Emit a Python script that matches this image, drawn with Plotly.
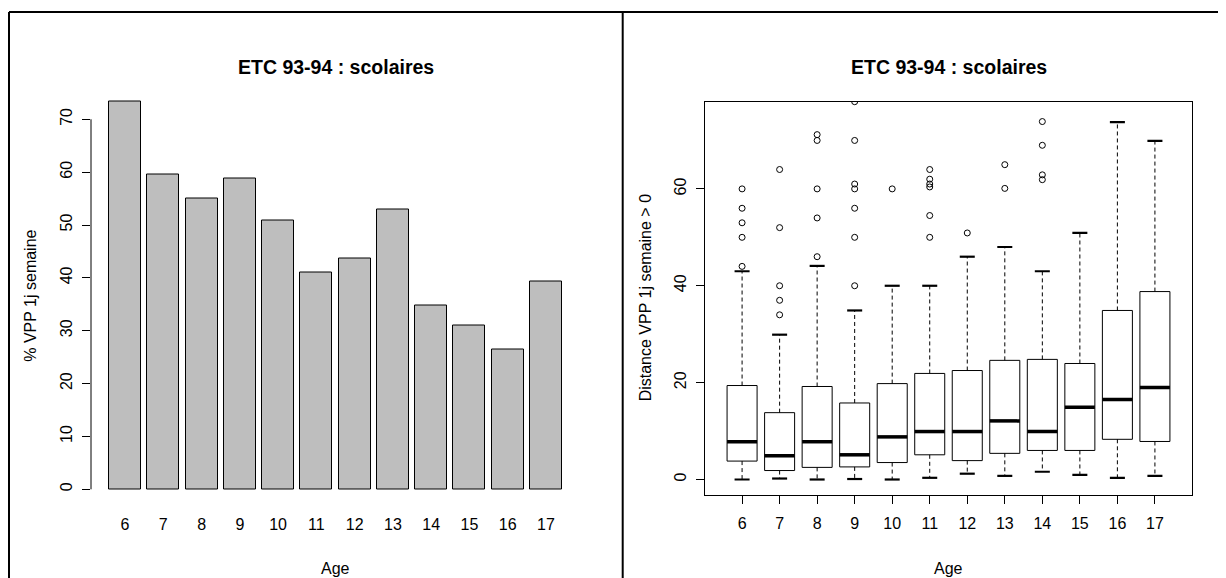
import plotly.graph_objects as go

# ---------------- data ----------------
ages = [6, 7, 8, 9, 10, 11, 12, 13, 14, 15, 16, 17]
pct_vpp = [73.3, 59.6, 55.0, 58.8, 50.8, 41.1, 43.6, 53.0, 34.7, 30.9, 26.4, 39.3]

box_q1 = [3.8, 1.85, 2.5, 2.6, 3.5, 5.1, 3.9, 5.4, 6.0, 6.0, 8.3, 7.85]
box_med = [7.8, 4.9, 7.8, 5.1, 8.8, 9.9, 9.9, 12.1, 9.9, 14.9, 16.5, 19.0]
box_q3 = [19.4, 13.8, 19.2, 15.8, 19.8, 21.9, 22.5, 24.6, 24.8, 23.95, 34.9, 38.8]
box_lo = [0.0, 0.2, 0.0, 0.1, 0.0, 0.35, 1.2, 0.75, 1.6, 0.95, 0.35, 0.75]
box_hi = [43.0, 29.9, 44.1, 34.9, 40.0, 40.0, 46.0, 48.0, 43.0, 50.9, 73.8, 69.9]
box_out = [
    [44, 50, 53, 56, 60],
    [34, 37, 40, 52, 64],
    [46, 54, 60, 70, 71.2],
    [40, 50, 56, 60, 61, 70, 78],
    [60],
    [50, 54.5, 60.4, 61, 62, 64],
    [50.9],
    [60.1, 65],
    [61.9, 62.9, 69, 73.9],
    [],
    [],
    [],
]

title_txt = "ETC 93-94 : scolaires"
xlab = "Age"
ylab_left = "% VPP 1j semaine"
ylab_right = "Distance VPP 1j semaine > 0"
left_yticks = [0, 10, 20, 30, 40, 50, 60, 70]
right_yticks = [0, 20, 40, 60]

# ---------------- layout helpers ----------------
# the page body has an 8px margin, so the figure starts at (8, 8) on screen
OFF = 8
W, H = 1226 - OFF, 578 - OFF
def px(p):
    return (p - OFF) / W
def py(p):
    return 1 - (p - OFF) / H

FONT = "Liberation Sans, Arial, sans-serif"
L_X0, L_X1, L_Y0, L_Y1 = 91, 580, 86.5, 505
R_X0, R_X1, R_Y0, R_Y1 = 705.3, 1191.7, 101.7, 495

fig = go.Figure()

# left: bar chart
fig.add_trace(go.Bar(
    x=ages, y=pct_vpp, width=1 / 1.2,
    marker=dict(color="#BEBEBE", line=dict(color="black", width=1)),
    xaxis="x", yaxis="y", showlegend=False, hoverinfo="x+y",
))

# right: boxplots built from stats
bw = 0.4
sw = 0.2
bx, by, mx, my, wx, wy, sx, sy, ox, oy = [], [], [], [], [], [], [], [], [], []
for a, q1, md, q3, lo, hi, outs in zip(ages, box_q1, box_med, box_q3, box_lo, box_hi, box_out):
    bx += [a - bw, a + bw, a + bw, a - bw, a - bw, None]
    by += [q1, q1, q3, q3, q1, None]
    mx += [a - bw, a + bw, None]
    my += [md, md, None]
    wx += [a, a, None, a, a, None]
    wy += [q3, hi, None, q1, lo, None]
    sx += [a - sw, a + sw, None, a - sw, a + sw, None]
    sy += [hi, hi, None, lo, lo, None]
    for o in outs:
        ox.append(a)
        oy.append(o)

fig.add_trace(go.Scatter(x=wx, y=wy, mode="lines", line=dict(color="black", width=1, dash="4px,3px"),
                         xaxis="x2", yaxis="y2", showlegend=False, hoverinfo="skip"))
fig.add_trace(go.Scatter(x=bx, y=by, mode="lines", line=dict(color="black", width=1),
                         xaxis="x2", yaxis="y2", showlegend=False, hoverinfo="skip"))
fig.add_trace(go.Scatter(x=sx, y=sy, mode="lines", line=dict(color="black", width=2.2),
                         xaxis="x2", yaxis="y2", showlegend=False, hoverinfo="skip"))
fig.add_trace(go.Scatter(x=mx, y=my, mode="lines", line=dict(color="black", width=3.5),
                         xaxis="x2", yaxis="y2", showlegend=False, hoverinfo="skip"))
fig.add_trace(go.Scatter(x=ox, y=oy, mode="markers",
                         marker=dict(symbol="circle-open", size=6, color="black", line=dict(width=1)),
                         xaxis="x2", yaxis="y2", showlegend=False))

axis_font = dict(family=FONT, size=16, color="black")

fig.update_layout(
    width=W, height=H,
    margin=dict(l=0, r=0, t=0, b=0),
    paper_bgcolor="white", plot_bgcolor="white",
    font=dict(family=FONT, size=16, color="black"),
    bargap=0,
    xaxis=dict(domain=[px(L_X0), px(L_X1)], anchor="y", range=[5.11, 17.89],
               tickmode="array", tickvals=ages, ticktext=[str(a) for a in ages],
               ticks="", showline=False, showgrid=False, zeroline=False,
               tickfont=axis_font, ticklabelstandoff=8),
    yaxis=dict(domain=[py(L_Y1), py(L_Y0)], anchor="x", range=[-2.97, 76.2],
               tickmode="array", tickvals=left_yticks, ticks="outside", ticklen=8,
               tickcolor="black", tickwidth=1, tickangle=-90,
               showline=False, showgrid=False, zeroline=False,
               tickfont=axis_font, ticklabelstandoff=4),
    xaxis2=dict(domain=[px(R_X0), px(R_X1)], anchor="y2", range=[5.02, 17.98],
                tickmode="array", tickvals=ages, ticktext=[str(a) for a in ages],
                ticks="outside", ticklen=8, tickcolor="black", tickwidth=1,
                showline=True, linecolor="black", linewidth=1, mirror=True,
                showgrid=False, zeroline=False, tickfont=axis_font, ticklabelstandoff=6),
    yaxis2=dict(domain=[py(R_Y1), py(R_Y0)], anchor="x2", range=[-3.2, 78.0],
                tickmode="array", tickvals=right_yticks, ticks="outside", ticklen=8,
                tickcolor="black", tickwidth=1, tickangle=-90,
                showline=True, linecolor="black", linewidth=1, mirror=True,
                showgrid=False, zeroline=False, tickfont=axis_font, ticklabelstandoff=4),
)

# left y axis line (R draws it only between first and last tick)
fig.add_shape(type="line", xref="x domain", yref="y", x0=0, x1=0,
              y0=left_yticks[0], y1=left_yticks[-1], line=dict(color="black", width=1))

# outer frame lines
frame = dict(color="black", width=2)
fig.add_shape(type="line", xref="paper", yref="paper", x0=px(9), x1=px(9), y0=py(12), y1=0, line=frame)
fig.add_shape(type="line", xref="paper", yref="paper", x0=px(9), x1=1, y0=py(12), y1=py(12), line=frame)
fig.add_shape(type="line", xref="paper", yref="paper", x0=px(622.7), x1=px(622.7), y0=py(12), y1=0, line=frame)

# titles and axis labels
for cx in [(L_X0 + L_X1) / 2, (R_X0 + R_X1) / 2]:
    fig.add_annotation(x=px(cx), y=py(67), xref="paper", yref="paper",
                       text="<b>" + title_txt + "</b>", showarrow=False,
                       font=dict(family=FONT, size=19.5, color="black"),
                       xanchor="center", yanchor="middle")
    fig.add_annotation(x=px(cx), y=py(568), xref="paper", yref="paper",
                       text=xlab, showarrow=False,
                       font=dict(family=FONT, size=16, color="black"),
                       xanchor="center", yanchor="middle")

fig.add_annotation(x=px(31), y=py((L_Y0 + L_Y1) / 2), xref="paper", yref="paper",
                   text=ylab_left, textangle=-90, showarrow=False,
                   font=dict(family=FONT, size=16, color="black"),
                   xanchor="center", yanchor="middle")
fig.add_annotation(x=px(645), y=py((R_Y0 + R_Y1) / 2), xref="paper", yref="paper",
                   text=ylab_right, textangle=-90, showarrow=False,
                   font=dict(family=FONT, size=16, color="black"),
                   xanchor="center", yanchor="middle")

fig.write_html("out.html")
